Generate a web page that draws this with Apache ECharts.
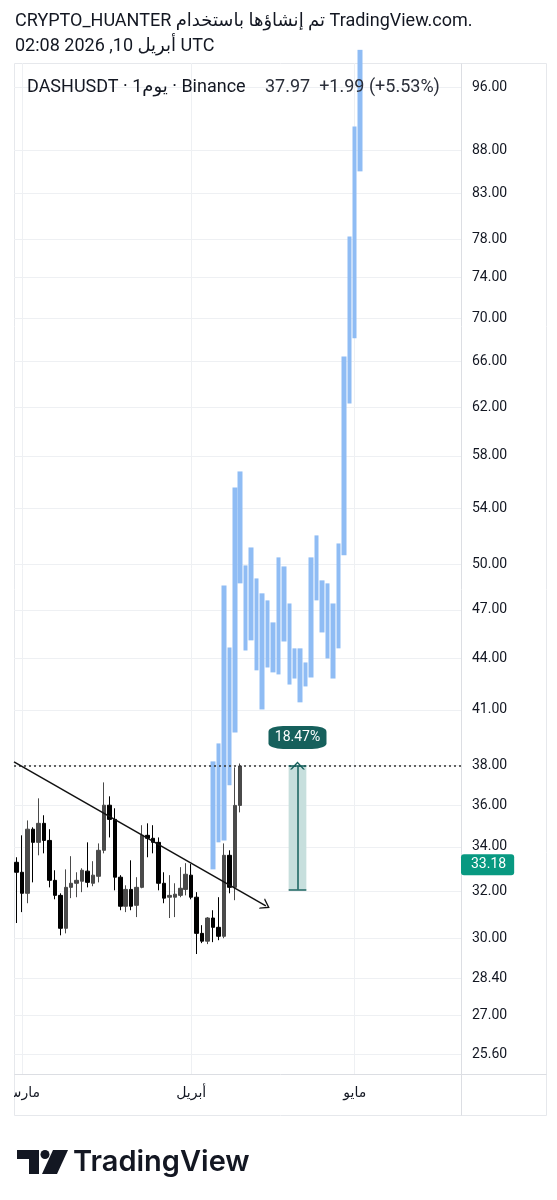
<!DOCTYPE html>
<html>
<head>
<meta charset="utf-8">
<script src="https://cdn.jsdelivr.net/npm/echarts@6/dist/echarts.min.js"></script>
<style>
  html, body { margin: 0; padding: 0; background: #fff; }
  #chart { width: 557px; height: 1200px; }
</style>
</head>
<body>
<div id="chart"></div>
<script>
// DASHUSDT daily candles, 28 Feb .. 10 Apr 2026
const candleOpen  = [33.29, 32.84, 31.91, 34.83, 34.21, 35.11, 34.30, 32.48, 31.82, 30.42, 32.17, 32.35, 32.44, 32.89, 32.35, 32.66, 33.84, 35.99, 35.30, 32.62, 31.35, 32.08, 31.39, 32.17, 34.54, 34.40, 34.21, 32.35, 31.74, 31.74, 31.82, 32.08, 32.71, 31.74, 30.21, 29.89, 30.85, 30.46, 30.09, 33.61, 32.17, 35.98];
const candleHigh  = [33.52, 34.54, 35.25, 34.92, 36.33, 35.50, 34.83, 32.93, 31.91, 32.97, 33.57, 32.84, 33.02, 34.21, 33.34, 34.16, 37.13, 36.43, 35.84, 32.71, 32.26, 33.38, 32.62, 35.02, 35.11, 35.02, 34.44, 32.84, 32.71, 32.35, 33.07, 33.25, 33.21, 31.96, 30.55, 30.89, 31.18, 31.74, 34.16, 33.84, 37.90, 38.10];
const candleLow   = [30.64, 31.10, 31.48, 32.39, 33.61, 33.70, 32.17, 31.65, 30.13, 30.21, 31.70, 31.74, 31.96, 32.17, 32.22, 32.39, 33.70, 34.44, 32.04, 31.18, 31.10, 31.18, 30.89, 32.13, 33.52, 33.70, 32.04, 31.48, 30.85, 30.89, 31.74, 31.82, 31.65, 29.37, 29.81, 29.77, 29.85, 29.93, 30.01, 31.91, 31.61, 35.64];
const candleClose = [32.84, 31.91, 34.83, 34.21, 35.11, 34.30, 32.48, 31.82, 30.42, 32.17, 32.35, 32.48, 32.93, 32.39, 32.71, 33.84, 35.99, 35.30, 32.62, 31.35, 32.08, 31.35, 32.17, 34.54, 34.40, 34.21, 32.35, 31.70, 31.82, 31.87, 32.13, 32.75, 31.74, 30.21, 29.89, 30.85, 30.46, 30.09, 33.61, 32.17, 35.98, 37.97];

// projected bars (bars pattern drawing), one per day from 5 Apr
const projLow  = [32.97, 34.21, 34.30, 36.98, 39.75, 48.73, 44.46, 45.08, 43.27, 41.02, 43.44, 43.15, 43.03, 45.01, 42.44, 42.79, 41.42, 42.33, 42.85, 47.61, 45.57, 43.98, 42.79, 44.59, 50.63, 62.31, 68.10, 85.55];
const projHigh = [38.21, 39.16, 48.59, 44.65, 55.55, 56.78, 49.94, 51.18, 49.06, 48.07, 47.61, 46.20, 50.49, 49.87, 47.41, 44.59, 44.59, 43.74, 50.49, 52.03, 48.93, 48.73, 47.41, 51.46, 66.44, 78.27, 90.97, 101.0];
const projStart = '2026-04-05';

// trend line (day index, price) and price range tool
const trendX = [-0.5, 45.7];
const trendY = [38.19, 31.37];
const rangeX = [49.88, 53.13];
const rangeY = [32.075, 38.0];
const hLinePrice = 38.0;
const lastPriceTag = 33.18;

const priceTicks = [25.6, 27, 28.4, 30, 32, 34, 36, 38, 41, 44, 47, 50, 54, 58, 62, 66, 70, 74, 78, 83, 88, 96];
const monthLabels = { '2026-03-01': 'مارس', '2026-04-01': 'أبريل', '2026-05-01': 'مايو' };

const dayCount = 82;
const days = [];
for (let i = 0; i < dayCount; i++) {
  days.push(new Date(Date.UTC(2026, 1, 28 + i)).toISOString().slice(0, 10));
}

const FONT = 'Roboto, "DejaVu Sans", sans-serif';
const TEXT = '#131722';
const GRID = '#eef0f3';
const BORDER = '#dcdee3';
const UP = '#4a4a4a';
const DOWN = '#000000';
const BLUE = '#8fbcf4';
const TEAL = '#16605c';
const CHEVRON = 'path://M0,10 L7,0 L14,10 L12.2,10 L7,2.6 L1.8,10 Z';

const candles = candleOpen.map((o, i) => [o, candleClose[i], candleLow[i], candleHigh[i]]);
const projOffset = days.indexOf(projStart);
const projBars = days.map((d, i) => {
  const k = i - projOffset;
  return k >= 0 && k < projLow.length ? [projLow[k], projHigh[k], projLow[k], projHigh[k]] : ['-', '-', '-', '-'];
});
const monthIdx = Object.keys(monthLabels).map(d => days.indexOf(d));

const last = candleClose[candleClose.length - 1];
const prev = candleClose[candleClose.length - 2];
const chg = last - prev;
const legendValues = last.toFixed(2) + '  +' + chg.toFixed(2) + ' (+' + (chg / prev * 100).toFixed(2) + '%)';
const rangePct = ((rangeY[1] / rangeY[0] - 1) * 100).toFixed(2) + '%';
const rangeMid = (rangeX[0] + rangeX[1]) / 2;

const chart = echarts.init(document.getElementById('chart'), null, { renderer: 'canvas' });

const frameLine = (x1, y1, x2, y2, c) => ({
  type: 'line', silent: true, z: 0,
  shape: { x1, y1, x2, y2 }, style: { stroke: c, lineWidth: 1 }
});

chart.setOption({
  animation: false,
  backgroundColor: '#fff',
  grid: { left: 14, right: 96, top: 63, bottom: 126, containLabel: false, outerBoundsMode: 'none' },
  xAxis: [
    {
      type: 'category',
      data: days,
      boundaryGap: true,
      axisLine: { show: false },
      axisTick: { show: false },
      splitLine: { show: false },
      axisLabel: {
        interval: (i, v) => v in monthLabels,
        formatter: v => monthLabels[v] || '',
        color: TEXT, fontSize: 14, fontFamily: FONT, margin: 12
      }
    },
    {
      type: 'value',
      min: -0.5, max: dayCount - 0.5,
      position: 'bottom',
      axisLine: { show: false },
      axisTick: { show: false, customValues: monthIdx },
      axisLabel: { show: false },
      splitLine: { show: true, lineStyle: { color: GRID, width: 1 } }
    }
  ],
  yAxis: {
    type: 'log', logBase: 10,
    position: 'right',
    min: 24.93, max: 99.2,
    axisLine: { show: false },
    axisTick: { show: false, customValues: priceTicks },
    axisLabel: {
      customValues: priceTicks,
      formatter: v => Number(v).toFixed(2),
      color: TEXT, fontSize: 14, fontFamily: FONT, margin: 11
    },
    splitLine: { show: true, lineStyle: { color: GRID, width: 1 } }
  },
  series: [
    {
      name: 'DASHUSDT', type: 'candlestick',
      xAxisIndex: 0, yAxisIndex: 0,
      data: candles,
      barWidth: 4,
      itemStyle: { color: UP, color0: DOWN, borderColor: UP, borderColor0: DOWN, borderWidth: 1 },
      markLine: {
        silent: true, symbol: 'none', animation: false,
        data: [
          { yAxis: hLinePrice, lineStyle: { color: '#333', type: [2, 3], width: 1.5 }, label: { show: false } },
          {
            yAxis: lastPriceTag, lineStyle: { color: 'rgba(0,0,0,0)', width: 1 },
            label: {
              show: true, position: 'end', distance: 0, formatter: lastPriceTag.toFixed(2),
              color: '#fff', backgroundColor: '#089981', fontSize: 14, fontFamily: FONT,
              padding: [4, 8, 3, 10], borderRadius: 3
            }
          }
        ]
      }
    },
    {
      name: 'projection', type: 'candlestick',
      xAxisIndex: 0, yAxisIndex: 0,
      data: projBars,
      barWidth: 5,
      itemStyle: { color: BLUE, color0: BLUE, borderColor: BLUE, borderColor0: BLUE, borderWidth: 0 }
    },
    {
      name: 'trend', type: 'line',
      xAxisIndex: 1, yAxisIndex: 0,
      data: [],
      markLine: {
        silent: true, animation: false,
        symbol: ['none', CHEVRON], symbolSize: [12, 9],
        label: { show: false },
        lineStyle: { color: '#111', width: 1.5, type: 'solid' },
        data: [[{ coord: [trendX[0], trendY[0]] }, { coord: [trendX[1], trendY[1]] }]]
      }
    },
    {
      name: 'range', type: 'line',
      xAxisIndex: 1, yAxisIndex: 0,
      data: [],
      markArea: {
        silent: true,
        itemStyle: { color: '#c7dfdd' },
        data: [[{ coord: [rangeX[0], rangeY[0]] }, { coord: [rangeX[1], rangeY[1]] }]]
      },
      markLine: {
        silent: true, animation: false,
        label: { show: false },
        lineStyle: { color: TEAL, width: 1.5, type: 'solid' },
        data: [
          [{ coord: [rangeX[0], rangeY[0]], symbol: 'none' }, { coord: [rangeX[1], rangeY[0]], symbol: 'none' }],
          [{ coord: [rangeX[0], rangeY[1]], symbol: 'none' }, { coord: [rangeX[1], rangeY[1]], symbol: 'none' }],
          [{ coord: [rangeMid, rangeY[0]], symbol: 'none' }, { coord: [rangeMid, rangeY[1]], symbol: CHEVRON, symbolSize: [15, 8] }]
        ]
      },
      markPoint: {
        silent: true, animation: false,
        data: [{
          coord: [rangeMid, rangeY[1]],
          symbol: 'roundRect', symbolSize: [58, 23], symbolOffset: [0, -28],
          itemStyle: { color: TEAL },
          label: { show: true, position: 'inside', formatter: rangePct, color: '#fff', fontSize: 14, fontFamily: FONT }
        }]
      }
    }
  ],
  graphic: [
    frameLine(14.5, 63.5, 546.5, 63.5, '#e6e8ec'),
    frameLine(14.5, 63.5, 14.5, 1115.5, '#e6e8ec'),
    frameLine(546.5, 63.5, 546.5, 1115.5, '#e6e8ec'),
    frameLine(14.5, 1115.5, 546.5, 1115.5, '#e6e8ec'),
    frameLine(461.5, 63.5, 461.5, 1115.5, BORDER),
    frameLine(14.5, 1074.5, 546.5, 1074.5, BORDER),
    // time scale label is cut at the left edge of the pane
    { type: 'rect', silent: true, z: 100, shape: { x: 0, y: 1076, width: 14, height: 38 }, style: { fill: '#fff' } },
    { type: 'text', x: 15, y: 21, silent: true, style: { text: 'CRYPTO_HUANTER تم إنشاؤها باستخدام TradingView.com.', font: '18px ' + FONT, fill: TEXT, verticalAlign: 'middle' } },
    { type: 'text', x: 15, y: 46, silent: true, style: { text: 'أبريل 10, 2026 02:08 UTC', font: '18px ' + FONT, fill: TEXT, verticalAlign: 'middle' } },
    { type: 'text', x: 27, y: 87, z: 10, silent: true, style: { text: 'DASHUSDT · 1يوم · Binance', font: '18px ' + FONT, fill: TEXT, verticalAlign: 'middle' } },
    { type: 'text', x: 265, y: 87, z: 10, silent: true, style: { text: legendValues, font: '18px ' + FONT, fill: '#2a2e39', verticalAlign: 'middle' } },
    // TradingView logo
    { type: 'polygon', silent: true, shape: { points: [[17, 1150], [39, 1150], [39, 1174], [29, 1174], [29, 1159], [17, 1159]] }, style: { fill: TEXT } },
    { type: 'circle', silent: true, shape: { cx: 45, cy: 1154.5, r: 4.5 }, style: { fill: TEXT } },
    { type: 'polygon', silent: true, shape: { points: [[53, 1150], [68, 1150], [57, 1174], [42, 1174]] }, style: { fill: TEXT } },
    { type: 'text', x: 73, y: 1162, silent: true, style: { text: 'TradingView', font: '600 29px Inter, Roboto, sans-serif', fill: TEXT, verticalAlign: 'middle' } }
  ]
});
</script>
</body>
</html>
